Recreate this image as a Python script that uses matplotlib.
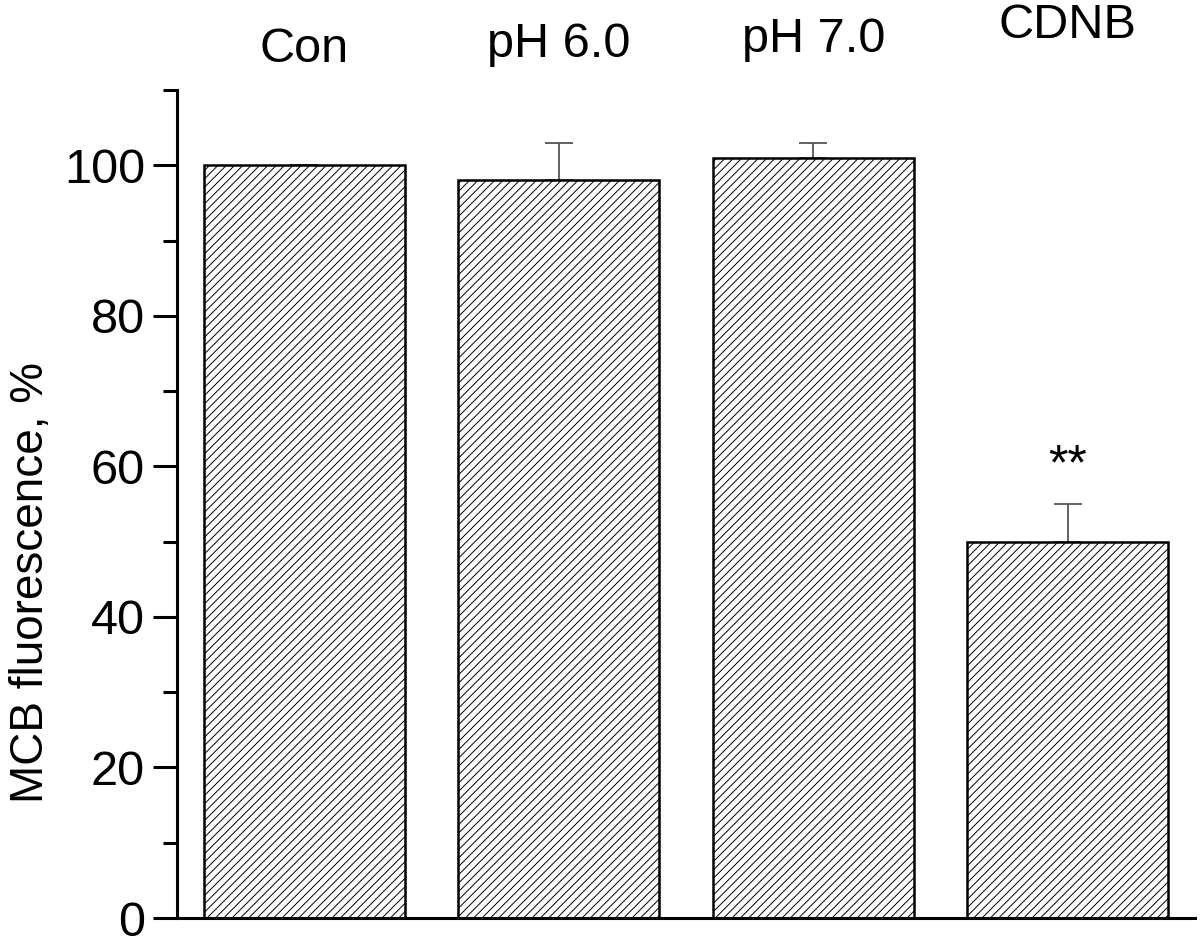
import matplotlib.pyplot as plt
import numpy as np

# Data
groups = ["Con", "pH 6.0", "pH 7.0", "CDNB"]
fluorescence = [100, 98, 101, 50]
errors = [0, 5, 2, 5]
significance = ["", "", "", "**"]

# Label heights above the axes (axes fraction), slightly staggered as in the original
label_y = [1.034, 1.040, 1.046, 1.063]

plt.rcParams['font.family'] = ['Liberation Sans', 'DejaVu Sans']
plt.rcParams['hatch.linewidth'] = 0.7
plt.rcParams['hatch.color'] = '#555555'

fig = plt.figure(figsize=(12, 9.36), dpi=100)
ax = fig.add_axes([0.1475, 0.0192, 0.8485, 0.8846])

x = np.arange(len(groups))
ax.bar(x, fluorescence, width=0.79, color='white', edgecolor='black',
       linewidth=1.8, hatch='////', zorder=2)
ax.errorbar(x, fluorescence, yerr=[np.zeros(len(errors)), errors], fmt='none',
            ecolor='#555555', elinewidth=1.3, capsize=10, capthick=1.3, zorder=1)

for xi, name, ly in zip(x, groups, label_y):
    ax.text(xi, ly, name, transform=ax.get_xaxis_transform(), ha='center',
            va='baseline', fontsize=35)

for xi, val, err, sig in zip(x, fluorescence, errors, significance):
    if sig:
        ax.text(xi, val + err + 2, sig, ha='center', va='bottom', fontsize=36)

ax.set_xlim(-0.5, 3.5)
ax.set_ylim(0, 110)
ax.set_yticks(np.arange(0, 101, 20))
ax.set_yticks(np.arange(10, 111, 20), minor=True)
ax.set_xticks([])
ax.tick_params(axis='y', which='major', direction='out', length=17, width=2.2,
               labelsize=35, pad=6)
ax.tick_params(axis='y', which='minor', direction='out', length=10, width=2.2)
ax.set_ylabel("MCB fluorescence, %", fontsize=33)
ax.yaxis.set_label_coords(-0.122, 0.405)

ax.spines['top'].set_visible(False)
ax.spines['right'].set_visible(False)
ax.spines['left'].set_linewidth(2.2)
ax.spines['bottom'].set_linewidth(2.2)

fig.savefig("out.png", dpi=100)
